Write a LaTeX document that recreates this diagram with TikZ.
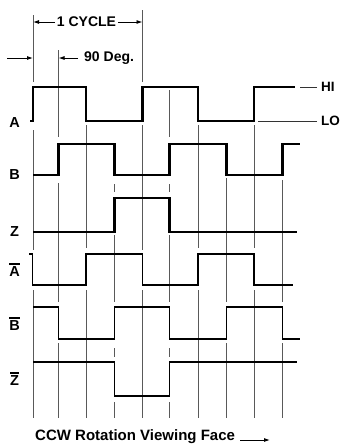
\documentclass[tikz,border=0pt]{standalone}
\usepackage{fontspec}
\setmainfont{Liberation Sans}
\usetikzlibrary{arrows.meta}
\newcommand\ovl[1]{\vbox{\hrule height 1.4pt\kern1.8pt\hbox{#1}}}
\begin{document}
\begin{tikzpicture}[x=1pt,y=-1pt,
  wave/.style={line width=2.7pt, line join=miter},
  wavethin/.style={line width=1.9pt, line join=miter},
  gridline/.style={line width=0.8pt, black!65},
  thinline/.style={line width=0.9pt, black!80},
  dim/.style={line width=0.9pt, -{Latex[length=6pt,width=4pt]}},
  lbl/.style={font=\fontsize{14.5}{16}\selectfont\bfseries, inner sep=0pt},
  ann/.style={font=\fontsize{14}{16}\selectfont\bfseries, inner sep=0pt},
  hilo/.style={font=\fontsize{13.5}{15}\selectfont\bfseries, inner sep=0pt},
]
\useasboundingbox (0,0) rectangle (341,445);

% vertical grid segments
\foreach \x/\a/\b in {
  33/15/82, 33/130/250, 33/290/418,
  58.5/50/137, 58.5/183/302, 58.5/343/418,
  86/125/248, 86/290/418,
  114.5/184/192, 114.5/235/302, 114.5/348/357, 114.5/402/418,
  142.5/10/82, 142.5/125/250, 142.5/290/418,
  169.5/90/137, 169.5/184/192, 169.5/235/302, 169.5/348/357, 169.5/402/418,
  198/125/248, 198/290/418,
  226.5/178/302, 226.5/343/418,
  254/125/248, 254/290/418,
  282.5/180/302, 282.5/343/418}
  \draw[gridline] (\x,\a) -- (\x,\b);

% waveforms
\draw[wave] (30,121) -- (33,121) -- (33,87) -- (86,87) -- (86,121) -- (142.5,121) -- (142.5,87)
  -- (198,87) -- (198,121) -- (254,121) -- (254,87) -- (295,87);
\draw[wave] (33,175) -- (58.5,175) -- (58.5,144) -- (114.5,144) -- (114.5,175) -- (169.5,175)
  -- (169.5,144) -- (226.5,144) -- (226.5,175) -- (282.5,175) -- (282.5,144) -- (300,144);
\draw[wave] (33,232) -- (114.5,232) -- (114.5,198) -- (169.5,198) -- (169.5,232) -- (297,232);
\draw[wavethin] (29,254) -- (32.5,254) -- (32.5,285) -- (86,285) -- (86,254) -- (142.5,254)
  -- (142.5,285) -- (198,285) -- (198,254) -- (254,254) -- (254,285) -- (293,285);
\draw[wavethin] (33,307) -- (58.5,307) -- (58.5,339) -- (114.5,339) -- (114.5,307) -- (169.5,307)
  -- (169.5,339) -- (226.5,339) -- (226.5,307) -- (282.5,307) -- (282.5,339) -- (300,339);
\draw[wavethin] (33,362) -- (114.5,362) -- (114.5,396) -- (169.5,396) -- (169.5,362) -- (297,362);

% HI / LO
\node[hilo, anchor=west] (hi) at (321,87) {HI};
\node[hilo, anchor=west] (lo) at (321,121) {LO};
\draw[thinline] ([xshift=-4pt]hi.west) -- (300,87);
\draw[thinline] ([xshift=-4pt]lo.west) -- (258,121);

% signal labels
\node[lbl] (la) at (14.5,123) {A};
\node[lbl] (lb) at (14.5,175) {B};
\node[lbl] (lz) at (14.5,232) {Z};
\node[lbl] (lab) at (14.5,270) {\ovl{A}};
\node[lbl] (lbb) at (14.5,324) {\ovl{B}};
\node[lbl] (lzb) at (14.5,379) {\ovl{Z}};

% 1 cycle
\coordinate (cycL) at (33,22);
\coordinate (cycR) at (142.5,22);
\node[ann] (cyc) at (86.5,22) {1 CYCLE};
\draw[dim] ([xshift=-2pt]cyc.west) -- (cycL);
\draw[dim] ([xshift=2pt]cyc.east) -- (cycR);

% 90 deg
\coordinate (degS) at (7,58);
\coordinate (degA) at (33,58);
\coordinate (degB) at (58.5,58);
\node[ann, anchor=west] (deg) at (84,58) {90 Deg.};
\draw[dim] (degS) -- (degA);
\draw[dim] ([xshift=-6pt]deg.west) -- (degB);

% bottom caption
\node[font=\fontsize{15}{17}\selectfont\bfseries, inner sep=0pt, anchor=west] (ccw) at (35,437) {CCW Rotation Viewing Face};
\coordinate (ccwEnd) at (270,440);
\draw[dim] ([xshift=5pt,yshift=-3pt]ccw.east) -- (ccwEnd);
\end{tikzpicture}
\end{document}
